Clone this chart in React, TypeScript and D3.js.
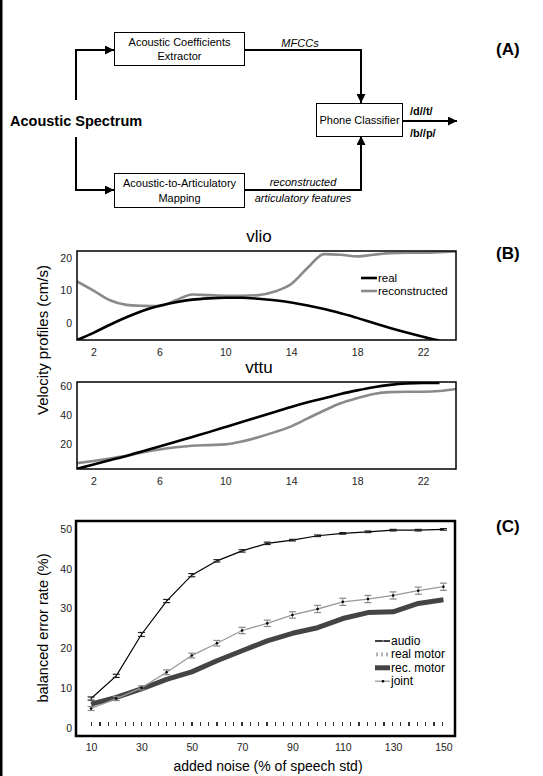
import * as d3 from "d3";
import React, { useEffect, useRef } from "react";

// panel B: velocity profiles, frame index 1..24
const frames = [1,2,3,4,5,6,7,8,9,10,11,12,13,14,15,16,17,18,19,20,21,22,23,24];
const vlioReal = [-5.2,-3,-0.5,1.8,3.8,5.3,6.4,7.2,7.6,7.8,7.8,7.5,7.0,6.3,5.4,4.3,3.0,1.6,0.0,-1.5,-2.9,-4.2,-5.4,null];
const vlioRec = [12.8,10,7,5.6,5.3,5.2,7,8.8,8.6,8.4,8.4,8.6,9.7,12,17,21.2,21,20.5,21,21.5,21.6,21.6,21.8,22];
const vttuReal = [2.5,5.5,8.5,11.5,14.8,18,21.3,24.7,28,31.5,35,38.5,42,45.5,48.7,51.5,54.5,57,59.2,60.8,61.8,62.2,62.2,null];
const vttuRec = [6.5,8,9.7,11.5,14,16,17.5,18.5,19,19.5,21.5,24.5,28,32,37.5,43,48,51.5,54.5,55.8,56,56,56.5,58];
const framesTicks = [2,6,10,14,18,22];

// panel C: error rate vs noise
const noise = [10,20,30,40,50,60,70,80,90,100,110,120,130,140,150];
const audio = [7.4,13.1,23.5,31.9,38.4,42,44.5,46.4,47.2,48.3,48.9,49.3,49.7,49.7,49.9];
const audioErr = [0.4,0.4,0.5,0.4,0.4,0.3,0.3,0.3,0.2,0.2,0.2,0.2,0.2,0.2,0.2];
const joint = [4.9,7.4,10.1,14,18.2,21.3,24.5,26.3,28.4,29.9,31.7,32.4,33.3,34.5,35.5];
const jointErr = [0.5,0.5,0.5,0.6,0.6,0.7,0.8,0.8,0.8,0.9,0.9,0.9,0.9,0.9,0.9];
const recMotor = [6,7.7,9.8,12.2,14.1,16.9,19.4,21.9,23.8,25.2,27.5,29,29.2,31.3,32.2];
const realMotor = [1,1,1,1,1,1,1,1,1,1,1,1,1,1,1];
const noiseTicks = [10,30,50,70,90,110,130,150];
const errTicks = [0,10,20,30,40,50];

const FONT = "'Liberation Sans', Arial, Helvetica, sans-serif";

export default function App() {
  const ref = useRef<SVGSVGElement>(null);

  useEffect(() => {
    const svg = d3.select(ref.current);
    svg.selectAll("*").remove();
    svg.style("font-family", FONT);

    const defs = svg.append("defs");
    defs.append("marker")
      .attr("id", "arr")
      .attr("viewBox", "0 0 10 10")
      .attr("refX", 10).attr("refY", 5)
      .attr("markerWidth", 9).attr("markerHeight", 9)
      .attr("markerUnits", "userSpaceOnUse")
      .attr("orient", "auto")
      .append("path").attr("d", "M0,0L10,5L0,10Z").attr("fill", "#000");

    // left rule
    svg.append("rect").attr("x", 0).attr("y", 0).attr("width", 2.5).attr("height", 776).attr("fill", "#000");

    // ---------- panel A: block diagram ----------
    const a = svg.append("g");
    const wire = (d: string) =>
      a.append("path").attr("d", d).attr("fill", "none").attr("stroke", "#000")
        .attr("stroke-width", 2).attr("marker-end", "url(#arr)");
    const box = (x: number, y: number, w: number, h: number, lines: string[]) => {
      a.append("rect").attr("x", x).attr("y", y).attr("width", w).attr("height", h)
        .attr("fill", "#fff").attr("stroke", "#000").attr("stroke-width", 1);
      lines.forEach((t, i) => {
        a.append("text").attr("x", x + w / 2)
          .attr("y", y + h / 2 + 4 + (i - (lines.length - 1) / 2) * 14.5)
          .attr("text-anchor", "middle").attr("font-size", 11).text(t);
      });
    };
    wire("M76,100V50H114");
    wire("M76,137V190H114");
    wire("M245,50H361V103");
    wire("M245,190H361V136");
    wire("M403,121H457");
    box(114.5, 32.5, 130, 33, ["Acoustic Coefficients", "Extractor"]);
    box(114.5, 173.5, 130, 34, ["Acoustic-to-Articulatory", "Mapping"]);
    box(316.5, 103.5, 86, 33, ["Phone Classifier"]);
    a.append("text").attr("x", 10).attr("y", 126).attr("font-size", 14.5)
      .attr("font-weight", "bold").text("Acoustic Spectrum");
    a.append("text").attr("x", 300).attr("y", 47).attr("font-size", 11)
      .attr("font-style", "italic").attr("text-anchor", "middle").text("MFCCs");
    a.append("text").attr("x", 303).attr("y", 186).attr("font-size", 11)
      .attr("font-style", "italic").attr("text-anchor", "middle").text("reconstructed");
    a.append("text").attr("x", 303).attr("y", 202).attr("font-size", 11)
      .attr("font-style", "italic").attr("text-anchor", "middle").text("articulatory features");
    a.append("text").attr("x", 410).attr("y", 115).attr("font-size", 11)
      .attr("font-weight", "bold").text("/d//t/");
    a.append("text").attr("x", 410).attr("y", 137).attr("font-size", 11)
      .attr("font-weight", "bold").text("/b//p/");

    const panelLabel = (y: number, t: string) =>
      svg.append("text").attr("x", 496).attr("y", y).attr("font-size", 17)
        .attr("font-weight", "bold").text(t);
    panelLabel(55, "(A)");
    panelLabel(259, "(B)");
    panelLabel(532, "(C)");

    // ---------- panel B ----------
    const x = d3.scaleLinear().domain([1, 24]).range([77, 456]);

    const velPlot = (
      top: number, bottom: number, dom: [number, number], ticks: number[],
      real: (number | null)[], rec: number[], title: string, legend: boolean
    ) => {
      const y = d3.scaleLinear().domain(dom).range([bottom, top]);
      const g = svg.append("g");
      const clipId = "clip" + title;
      defs.append("clipPath").attr("id", clipId).append("rect")
        .attr("x", 77).attr("y", top).attr("width", 379).attr("height", bottom - top);
      g.append("text").attr("x", 259).attr("y", top - 9).attr("text-anchor", "middle")
        .attr("font-size", 17).text(title);
      const line = d3.line<[number, number | null]>()
        .defined((d) => d[1] !== null)
        .x((d) => x(d[0]))
        .y((d) => y(d[1] as number))
        .curve(d3.curveMonotoneX);
      g.append("path").attr("clip-path", `url(#${clipId})`)
        .attr("d", line(frames.map((f, i) => [f, rec[i]])))
        .attr("fill", "none").attr("stroke", "#8a8a8a").attr("stroke-width", 2.6);
      g.append("path").attr("clip-path", `url(#${clipId})`)
        .attr("d", line(frames.map((f, i) => [f, real[i]])))
        .attr("fill", "none").attr("stroke", "#000").attr("stroke-width", 2.6);
      g.append("rect").attr("x", 77).attr("y", top).attr("width", 379).attr("height", bottom - top)
        .attr("fill", "none").attr("stroke", "#000").attr("stroke-width", 1.5);
      const yAxis = g.append("g").attr("transform", "translate(72,0)")
        .call(d3.axisLeft(y).tickValues(ticks).tickSize(0).tickPadding(0));
      yAxis.select(".domain").remove();
      yAxis.selectAll("text").attr("font-size", 10.5).attr("font-family", FONT).attr("fill", "#222");
      const xAxis = g.append("g").attr("transform", `translate(0,${bottom})`)
        .call(d3.axisBottom(x).tickValues(framesTicks).tickSize(0).tickPadding(9));
      xAxis.select(".domain").remove();
      xAxis.selectAll("text").attr("font-size", 10.5).attr("font-family", FONT).attr("fill", "#222");
      if (legend) {
        const items = [["real", "#000"], ["reconstructed", "#8a8a8a"]];
        items.forEach(([t, c], i) => {
          const ly = 278 + i * 13;
          g.append("line").attr("x1", 361).attr("x2", 377).attr("y1", ly).attr("y2", ly)
            .attr("stroke", c).attr("stroke-width", 2.6);
          g.append("text").attr("x", 378).attr("y", ly + 4).attr("font-size", 11.5).text(t);
        });
      }
    };
    velPlot(251, 340, [-5.2, 22.15], [0, 10, 20], vlioReal, vlioRec, "vlio", true);
    velPlot(382, 469, [2.4, 62.8], [20, 40, 60], vttuReal, vttuRec, "vttu", false);

    svg.append("text").attr("transform", "translate(48,340) rotate(-90)")
      .attr("text-anchor", "middle").attr("font-size", 15).text("Velocity profiles (cm/s)");

    // ---------- panel C ----------
    const cx = d3.scaleLinear().domain([4, 154.6]).range([76, 455]);
    const cy = d3.scaleLinear().domain([0, 50]).range([728, 529]);
    const c = svg.append("g");

    const straight = d3.line<[number, number]>().x((d) => cx(d[0])).y((d) => cy(d[1]));

    // real motor: short vertical ticks along the bottom
    c.append("path")
      .attr("d", straight([[noise[0], realMotor[0]], [noise[noise.length - 1], realMotor[realMotor.length - 1]]]))
      .attr("fill", "none").attr("stroke", "#333").attr("stroke-width", 4)
      .attr("shape-rendering", "crispEdges")
      .attr("stroke-dasharray", "1.2 7.15");

    c.append("path").attr("d", straight(noise.map((n, i) => [n, recMotor[i]])))
      .attr("fill", "none").attr("stroke", "#444").attr("stroke-width", 5)
      .attr("stroke-linejoin", "round");

    const errorBars = (vals: number[], errs: number[], color: string) => {
      noise.forEach((n, i) => {
        const xx = cx(n);
        const y1 = cy(vals[i] - errs[i]);
        const y2 = cy(vals[i] + errs[i]);
        c.append("line").attr("x1", xx).attr("x2", xx).attr("y1", y1).attr("y2", y2)
          .attr("stroke", color).attr("stroke-width", 1);
        [y1, y2].forEach((yy) =>
          c.append("line").attr("x1", xx - 3.5).attr("x2", xx + 3.5).attr("y1", yy).attr("y2", yy)
            .attr("stroke", color).attr("stroke-width", 1.2));
      });
    };

    c.append("path").attr("d", straight(noise.map((n, i) => [n, joint[i]])))
      .attr("fill", "none").attr("stroke", "#999").attr("stroke-width", 1.3);
    errorBars(joint, jointErr, "#888");
    noise.forEach((n, i) =>
      c.append("circle").attr("cx", cx(n)).attr("cy", cy(joint[i])).attr("r", 1.3).attr("fill", "#000"));

    c.append("path").attr("d", straight(noise.map((n, i) => [n, audio[i]])))
      .attr("fill", "none").attr("stroke", "#000").attr("stroke-width", 1.2);
    errorBars(audio, audioErr, "#222");

    c.append("rect").attr("x", 76).attr("y", 521).attr("width", 379).attr("height", 215)
      .attr("fill", "none").attr("stroke", "#000").attr("stroke-width", 2.5);

    const cyAxis = c.append("g").attr("transform", "translate(72,0)")
      .call(d3.axisLeft(cy).tickValues(errTicks).tickSize(0).tickPadding(0));
    cyAxis.select(".domain").remove();
    cyAxis.selectAll("text").attr("font-size", 10.5).attr("font-family", FONT).attr("fill", "#222");
    const cxAxis = c.append("g").attr("transform", "translate(0,736)")
      .call(d3.axisBottom(cx).tickValues(noiseTicks).tickSize(0).tickPadding(8));
    cxAxis.select(".domain").remove();
    cxAxis.selectAll("text").attr("font-size", 10.5).attr("font-family", FONT).attr("fill", "#222");

    c.append("text").attr("x", 268).attr("y", 771).attr("text-anchor", "middle")
      .attr("font-size", 14).text("added noise (% of speech std)");
    c.append("text").attr("transform", "translate(48,628) rotate(-90)")
      .attr("text-anchor", "middle").attr("font-size", 14.5).text("balanced error rate (%)");

    // legend
    const lg = c.append("g");
    const ly = (i: number) => 641 + i * 13.4;
    lg.append("line").attr("x1", 375).attr("x2", 390).attr("y1", ly(0)).attr("y2", ly(0))
      .attr("stroke", "#000").attr("stroke-width", 1.5);
    lg.append("circle").attr("cx", 383).attr("cy", ly(0)).attr("r", 1).attr("fill", "#888");
    [377, 382, 387].forEach((xx) =>
      lg.append("line").attr("x1", xx).attr("x2", xx).attr("y1", ly(1) - 2).attr("y2", ly(1) + 2)
        .attr("stroke", "#666").attr("stroke-width", 1));
    lg.append("line").attr("x1", 375).attr("x2", 390).attr("y1", ly(2)).attr("y2", ly(2))
      .attr("stroke", "#444").attr("stroke-width", 5);
    lg.append("line").attr("x1", 375).attr("x2", 390).attr("y1", ly(3)).attr("y2", ly(3))
      .attr("stroke", "#999").attr("stroke-width", 1.3);
    lg.append("circle").attr("cx", 383).attr("cy", ly(3)).attr("r", 1.3).attr("fill", "#000");
    ["audio", "real motor", "rec. motor", "joint"].forEach((t, i) =>
      lg.append("text").attr("x", 391).attr("y", ly(i) + 4).attr("font-size", 12).text(t));
  }, []);

  return (
    <svg ref={ref} width={543} height={776}
      style={{ position: "absolute", left: 0, top: 0, background: "#fff" }} />
  );
}
